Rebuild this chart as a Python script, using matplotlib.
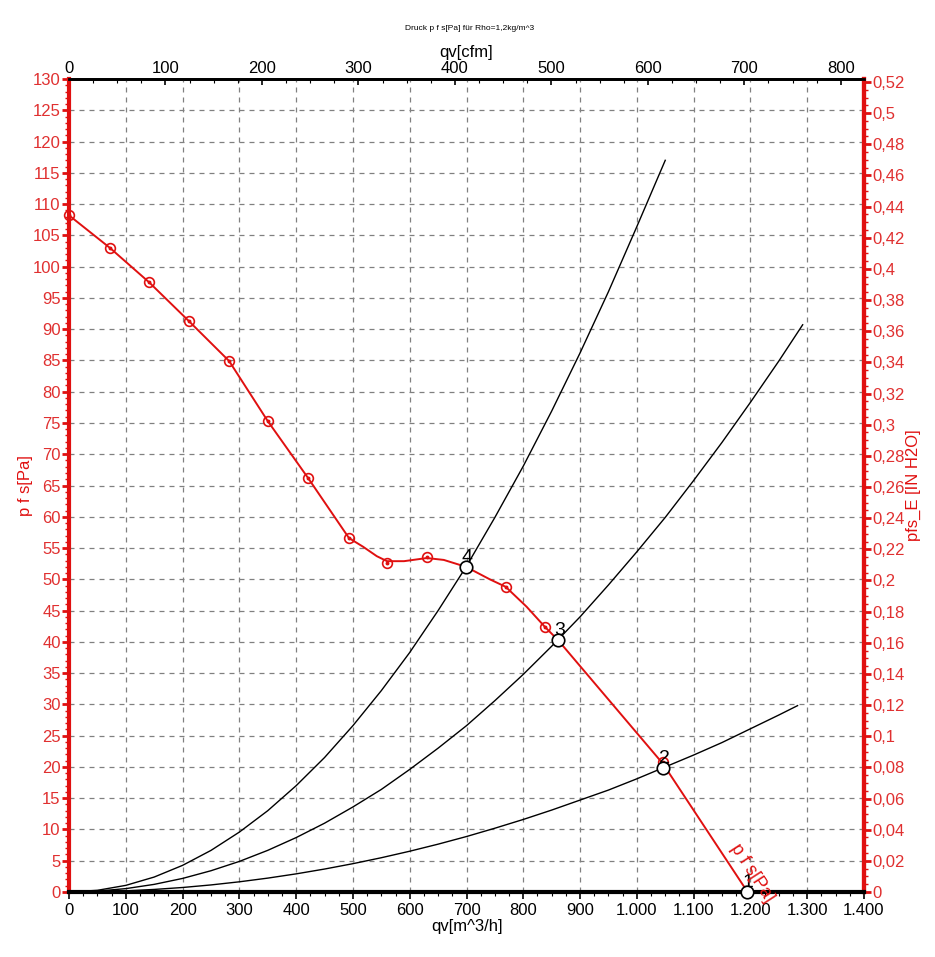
import matplotlib
matplotlib.use("Agg")
import matplotlib.pyplot as plt
from matplotlib.ticker import MultipleLocator, FixedLocator, FuncFormatter

plt.rcParams['font.family'] = ['Liberation Sans', 'DejaVu Sans']

# Fan curve: qv [m^3/h], p_fs [Pa]
fan_q = [0, 72, 141, 211, 282, 350, 421, 493, 518, 542, 560, 590, 630, 660, 699, 741, 769, 806, 838, 861, 1046, 1195]
fan_p = [108.2, 103.0, 97.5, 91.3, 84.9, 75.3, 66.2, 56.6, 55.2, 53.7, 52.9, 52.9, 53.4, 53.1, 52.0, 50.0, 48.8, 45.6, 42.4, 40.3, 20.5, 0.0]

# Measured sample markers on the fan curve
mark_q = [0, 72, 141, 211, 282, 350, 421, 493, 560, 630, 769, 838, 1046]
mark_p = [108.2, 103.0, 97.5, 91.3, 84.9, 75.3, 66.2, 56.6, 52.6, 53.6, 48.8, 42.4, 20.8]

# System curves
sysA_q = [0, 50, 100, 150, 200, 250, 300, 350, 400, 450, 500, 550, 600, 650, 700, 750, 800, 850, 900, 950, 1000, 1050]
sysA_p = [0, 0.27, 1.06, 2.39, 4.26, 6.65, 9.58, 13.0, 17.0, 21.5, 26.6, 32.2, 38.3, 45.0, 52.1, 59.9, 68.1, 76.9, 86.2, 96.0, 106.4, 117.0]
sysB_q = [0, 50, 100, 150, 200, 250, 300, 350, 400, 450, 500, 550, 600, 650, 700, 750, 800, 850, 900, 950, 1000, 1050, 1100, 1150, 1200, 1250, 1292]
sysB_p = [0, 0.14, 0.54, 1.22, 2.17, 3.40, 4.89, 6.66, 8.70, 11.0, 13.6, 16.4, 19.6, 23.0, 26.6, 30.6, 34.8, 39.3, 44.0, 49.1, 54.4, 59.9, 65.8, 71.9, 78.3, 84.9, 90.7]
sysC_q = [0, 50, 100, 150, 200, 250, 300, 350, 400, 450, 500, 550, 600, 650, 700, 750, 800, 850, 900, 950, 1000, 1050, 1100, 1150, 1200, 1250, 1283]
sysC_p = [0, 0.05, 0.18, 0.41, 0.72, 1.13, 1.63, 2.22, 2.90, 3.67, 4.53, 5.48, 6.52, 7.65, 8.87, 10.2, 11.6, 13.1, 14.7, 16.3, 18.1, 20.0, 21.9, 23.9, 26.1, 28.3, 29.8]

# Operating points
op_q = [1194, 1046, 861, 699]
op_p = [0.0, 19.8, 40.3, 52.0]
op_lbl = ["1", "2", "3", "4"]

# Tick values
x_ticks = [0, 100, 200, 300, 400, 500, 600, 700, 800, 900, 1000, 1100, 1200, 1300, 1400]
cfm_ticks = [0, 100, 200, 300, 400, 500, 600, 700, 800]
inh2o_ticks = [0, 0.02, 0.04, 0.06, 0.08, 0.1, 0.12, 0.14, 0.16, 0.18, 0.2, 0.22, 0.24, 0.26,
               0.28, 0.3, 0.32, 0.34, 0.36, 0.38, 0.4, 0.42, 0.44, 0.46, 0.48, 0.5, 0.52]

RED = "#e01010"
TICKRED = "#e03030"

fig = plt.figure(figsize=(9.35, 9.57), dpi=100)
ax = fig.add_axes([69/935, 1-892/957, (864-69)/935, (892-79)/957])

ax.set_xlim(0, 1400)
ax.set_ylim(0, 130)

ax.grid(True, color="#808080", linestyle=(0, (4, 4)), linewidth=0.9)
ax.set_axisbelow(True)

for q, p in [(sysA_q, sysA_p), (sysB_q, sysB_p), (sysC_q, sysC_p)]:
    ax.plot(q, p, color="black", linewidth=1.0, zorder=3)

ax.plot(fan_q, fan_p, color=RED, linewidth=1.4, zorder=4)
ax.plot(mark_q, mark_p, linestyle="none", marker="o", markersize=7,
        markerfacecolor="none", markeredgecolor=RED, markeredgewidth=1.2, zorder=5, clip_on=False)
ax.plot(mark_q, mark_p, linestyle="none", marker="o", markersize=1.8,
        color=RED, zorder=5, clip_on=False)

ax.plot(op_q, op_p, linestyle="none", marker="o", markersize=9,
        markerfacecolor="white", markeredgecolor="black", markeredgewidth=1.2, zorder=6, clip_on=False)
for q, p, l in zip(op_q, op_p, op_lbl):
    ax.annotate(l, (q, p), xytext=(1, 7), textcoords="offset points",
                ha="center", va="center", fontsize=14, color="black", zorder=7)

ax.text(1203, 3.0, "p f s[Pa]", color=RED, fontsize=13, rotation=-57,
        ha="center", va="center", rotation_mode="anchor", clip_on=False, zorder=7)

# Spines
ax.spines['left'].set_color(RED)
ax.spines['left'].set_linewidth(3)
ax.spines['right'].set_color(RED)
ax.spines['right'].set_linewidth(3)
ax.spines['bottom'].set_linewidth(3)
ax.spines['top'].set_linewidth(2)

# Bottom axis
ax.xaxis.set_major_locator(FixedLocator(x_ticks))
ax.xaxis.set_minor_locator(MultipleLocator(25))
def de_thousands(v, pos):
    v = int(round(v))
    return f"{v:,}".replace(",", ".")
ax.xaxis.set_major_formatter(FuncFormatter(de_thousands))
ax.tick_params(axis='x', which='major', labelsize=12, length=5, width=1.2, direction='out', pad=3)
ax.tick_params(axis='x', which='minor', length=3, width=0.8, direction='out')
ax.set_xlabel("qv[m^3/h]", fontsize=12, labelpad=1)

# Left axis
ax.yaxis.set_major_locator(MultipleLocator(5))
ax.yaxis.set_minor_locator(MultipleLocator(1))
ax.tick_params(axis='y', which='major', labelsize=12, length=5, width=2, direction='out',
               colors=RED, labelcolor=TICKRED, pad=1)
ax.tick_params(axis='y', which='minor', length=3, width=1, direction='out', colors=RED)
ax.set_ylabel("p f s[Pa]", fontsize=12, color=RED, labelpad=0)

# Top axis: cfm
M3H_PER_CFM = 1.699011
top = ax.secondary_xaxis('top', functions=(lambda x: x / M3H_PER_CFM, lambda c: c * M3H_PER_CFM))
top.xaxis.set_major_locator(FixedLocator(cfm_ticks))
top.xaxis.set_minor_locator(FixedLocator([c for c in range(0, 825, 25)]))
top.tick_params(axis='x', which='major', labelsize=12, length=4, width=1.2, direction='in', pad=2)
top.tick_params(axis='x', which='minor', length=3, width=0.8, direction='in')
top.set_xlabel("qv[cfm]", fontsize=12, labelpad=3)
top.spines['top'].set_linewidth(2)

# Right axis: inH2O
PA_PER_INH2O = 249.0889
right = ax.secondary_yaxis('right', functions=(lambda p: p / PA_PER_INH2O, lambda i: i * PA_PER_INH2O))
right.yaxis.set_major_locator(FixedLocator(inh2o_ticks))
right.yaxis.set_minor_locator(FixedLocator([i * 0.005 for i in range(0, 105)]))
def de_dec(v, pos):
    s = f"{v:.2f}".rstrip('0').rstrip('.')
    if s in ("", "-0"):
        s = "0"
    return s.replace(".", ",")
right.yaxis.set_major_formatter(FuncFormatter(de_dec))
right.tick_params(axis='y', which='major', labelsize=12, length=5, width=2, direction='out',
                  colors=RED, labelcolor=TICKRED, pad=1)
right.tick_params(axis='y', which='minor', length=3, width=1, direction='out', colors=RED)
right.spines['right'].set_color(RED)
right.spines['right'].set_linewidth(3)
right.set_ylabel("pfs_E [IN H2O]", fontsize=12, color=RED, labelpad=1)

fig.text(470/935, 1-29/957, "Druck p f s[Pa] für Rho=1,2kg/m^3", fontsize=6,
         ha="center", va="center", color="black")

fig.savefig("out.png", dpi=100)
